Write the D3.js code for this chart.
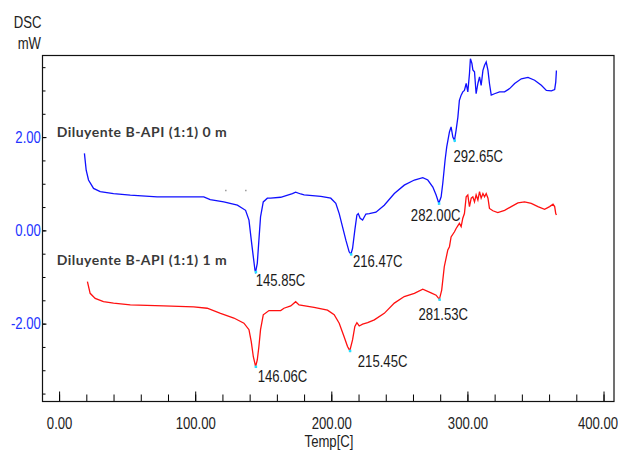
<!DOCTYPE html>
<html>
<head>
<meta charset="utf-8">
<script src="https://cdn.jsdelivr.net/npm/d3@7"></script>
<style>
  body { margin: 0; background: #fff; }
</style>
</head>
<body>
<script>
// DSC curves, temperature [C] and heat flow [mW]
var temp0m = [18.6,19.9,21.6,25.3,30.2,40,52.3,72,89,106.3,111,121,131,137,139.5,141.2,142.7,143.9,144.4,145.6,146.8,148,150,153,155.4,162.8,171.4,173.8,177.5,180,192.3,199.6,203.3,205.8,208.2,210.7,213.1,214.4,215.6,217.3,218.8,219.8,221.2,223,225.4,227.9,232.8,238.9,246.3,253.6,261,267.2,270.9,274.6,277,279,280.7,281.9,283.6,284.8,286.8,288,289.3,290.5,291.7,293,294.1,295.4,296.6,297.8,299.1,300.3,301.5,302.2,303.3,304,305.2,306.4,307.7,308.9,310.1,311.4,312.6,313.8,315.1,316.2,317.5,319.9,323.6,327.3,331,334.7,339.6,344.5,349.4,354.3,358,361.7,364.1,364.9,365.4];
var dsc0m  = [1.65,1.29,1.08,0.90,0.83,0.79,0.756,0.72,0.72,0.72,0.66,0.61,0.54,0.43,0.22,-0.21,-0.57,-0.85,-0.89,-0.71,-0.21,0.29,0.61,0.69,0.69,0.71,0.79,0.82,0.78,0.76,0.73,0.69,0.58,0.36,0.08,-0.21,-0.46,-0.51,-0.39,0.01,0.33,0.36,0.26,0.22,0.35,0.36,0.39,0.54,0.79,0.97,1.08,1.13,1.08,0.93,0.76,0.58,0.72,1.01,1.51,1.79,2.11,2.22,2.00,1.93,2.15,2.43,2.79,2.90,2.97,3.00,3.15,2.97,3.36,3.68,3.58,3.44,3.40,2.93,3.15,3.29,3.11,3.43,3.54,3.61,3.43,3.15,2.90,2.93,2.97,2.97,3.04,3.15,3.25,3.28,3.22,3.11,3.00,2.99,3.02,3.18,3.43];

var temp1m = [20.8,22.8,26.5,32.6,40,52.3,76.8,98.9,108.8,118.6,128.4,135.8,139.5,141.2,142.7,144.4,145.6,146.8,148,150,154.2,162.8,165.2,170.2,173.8,176.3,187.3,197.2,202.1,205.8,209.4,211.9,213.6,215.6,217.3,218.8,220.5,223,226.7,231.6,238.9,246.3,253.6,261,267.2,273.3,277,279.4,281.1,283,285.6,286.8,288,290.5,291.7,294.1,295.4,296.6,297.8,299.1,300.3,301.5,302.8,304,305.2,306.4,307.7,308.9,310.1,311.4,312.6,313.8,315.1,316.2,318.7,322.3,327.3,332.2,337.1,342,346.9,351.8,356.7,360.4,362.9,364.1,364.9,365.4];
var dsc1m  = [-1.10,-1.35,-1.46,-1.53,-1.56,-1.60,-1.62,-1.64,-1.67,-1.78,-1.88,-1.99,-2.13,-2.39,-2.71,-2.92,-2.78,-2.49,-2.13,-1.81,-1.72,-1.72,-1.67,-1.62,-1.53,-1.60,-1.65,-1.71,-1.81,-1.99,-2.28,-2.49,-2.58,-2.35,-2.06,-1.98,-2.05,-2.01,-1.98,-1.92,-1.78,-1.56,-1.42,-1.35,-1.26,-1.34,-1.39,-1.48,-1.28,-0.78,-0.42,-0.35,-0.14,-0.03,0.04,0.15,0.08,0.26,0.36,0.72,0.76,0.51,0.69,0.72,0.61,0.76,0.65,0.83,0.69,0.79,0.72,0.79,0.69,0.47,0.42,0.38,0.43,0.51,0.59,0.61,0.58,0.51,0.45,0.51,0.56,0.51,0.36,0.33];

// peak markers: [temp, mW] and their labels
var peaks0m = [[144.4,-0.89],[214.4,-0.51],[279,0.58],[290.5,1.93]];
var peakText0m = ["145.85C","216.47C","282.00C","292.65C"];
var peaks1m = [[144.4,-2.92],[213.6,-2.58],[279.4,-1.48]];
var peakText1m = ["146.06C","215.45C","281.53C"];

var seriesNames = ["Diluyente B-API (1:1) 0 m", "Diluyente B-API (1:1) 1 m"];
var xTicks = [0, 100, 200, 300, 400];
var yTicks = [-2, 0, 2];
var strayDots = [[122.3,0.86],[137,0.86]];

// label offsets from the peak marker (px)
var off0m = [[0,14],[2,13],[-28,18],[-1,21.5]];
var off1m = [[2,15],[8,16.6],[-21,20.6]];

var W = 618, H = 454;
var margin = {left: 42.5, top: 55.5, right: 4, bottom: 52.5},
    width = W - margin.left - margin.right,
    height = H - margin.top - margin.bottom;

var SQ = 0.82; // squeeze Liberation Sans into an Arial Narrow look
var FONT = "'Liberation Sans', Arial, sans-serif";
var fmt = d => d3.format(".2f")(d).replace("\u2212", "-");

var svg = d3.select("body").append("svg")
    .attr("width", W)
    .attr("height", H);

var g = svg.append("g")
    .attr("transform", "translate(" + margin.left + "," + margin.top + ")");

var x = d3.scaleLinear().domain([-12.2, 407.7]).range([0, width]);
var y = d3.scaleLinear().domain([-3.67, 3.75]).range([height, 0]);

// narrow text placed at (px, py)
function ntext(parent, px, py, str, anchor, color) {
    return parent.append("text")
        .attr("transform", "translate(" + px + "," + py + ") scale(" + SQ + ",1)")
        .attr("text-anchor", anchor || "start")
        .attr("font-family", FONT)
        .attr("font-size", 16)
        .attr("fill", color || "#1a1a1a")
        .text(str);
}

// x axis: minor ticks every 20, major every 100
g.append("g")
    .attr("transform", "translate(0," + height + ")")
    .call(d3.axisBottom(x).tickValues(d3.range(0, 401, 20)).tickSizeInner(-7).tickSizeOuter(0).tickFormat(""))
    .call(s => s.select(".domain").remove());
var xAx = g.append("g")
    .attr("transform", "translate(0," + height + ")")
    .call(d3.axisBottom(x).tickValues(xTicks).tickSizeInner(-10).tickSizeOuter(0).tickPadding(16).tickFormat(fmt));
xAx.select(".domain").remove();
xAx.selectAll("text")
    .attr("font-size", 16).attr("font-family", FONT).attr("fill", "#222")
    .attr("transform", "scale(" + SQ + ",1)");
// last label is pushed against the right edge, as in the source plot
xAx.selectAll("text").filter(d => d == 400)
    .attr("text-anchor", "end").attr("x", 14 / SQ);

// y axis
g.append("g")
    .call(d3.axisLeft(y).tickValues(d3.range(-3.5, 3.51, 0.5)).tickSizeInner(-3).tickSizeOuter(0).tickFormat(""))
    .call(s => s.select(".domain").remove());
var yAx = g.append("g")
    .call(d3.axisLeft(y).tickValues(yTicks).tickSizeInner(-4).tickSizeOuter(0).tickPadding(2).tickFormat(fmt));
yAx.select(".domain").remove();
yAx.selectAll("text")
    .attr("font-size", 16).attr("font-family", FONT).attr("fill", "#2233ff")
    .attr("transform", "scale(" + SQ + ",1)");

// frame
g.append("rect")
    .attr("width", width).attr("height", height)
    .attr("fill", "none").attr("stroke", "#111").attr("stroke-width", 1.2);

var line = d3.line().x(d => x(d[0])).y(d => y(d[1]));

g.append("path")
    .datum(d3.zip(temp0m, dsc0m))
    .attr("d", line)
    .attr("fill", "none").attr("stroke", "#1010ff").attr("stroke-width", 1.3);
g.append("path")
    .datum(d3.zip(temp1m, dsc1m))
    .attr("d", line)
    .attr("fill", "none").attr("stroke", "#ff1010").attr("stroke-width", 1.3);

g.selectAll(".stray").data(strayDots).enter().append("rect")
    .attr("x", d => x(d[0]) - 0.5).attr("y", d => y(d[1]) - 0.5)
    .attr("width", 1.5).attr("height", 1.5).attr("fill", "#999");

function peakLabels(pts, txt, off) {
    g.selectAll(null).data(pts).enter().append("rect")
        .attr("x", d => x(d[0]) - 1).attr("y", d => y(d[1]) - 1)
        .attr("width", 2.5).attr("height", 2.5).attr("fill", "#22e0ff");
    pts.forEach(function(d, i) {
        ntext(g, x(d[0]) + off[i][0], y(d[1]) + off[i][1], txt[i]);
    });
}
peakLabels(peaks0m, peakText0m, off0m);
peakLabels(peaks1m, peakText1m, off1m);

// series labels
svg.selectAll(".series").data(seriesNames).enter().append("text")
    .attr("x", 56.7)
    .attr("y", (d, i) => i == 0 ? 136.5 : 264.5)
    .attr("font-family", "Lato, 'Open Sans', sans-serif")
    .attr("font-weight", 700)
    .attr("font-size", 14)
    .attr("textLength", 170)
    .attr("lengthAdjust", "spacing")
    .attr("fill", "#3a3a3a")
    .text(d => d);

// axis titles
ntext(svg, 27.5, 27.5, "DSC", "middle", "#222");
ntext(svg, 41, 49, "mW", "end", "#222");
ntext(svg, 329, 447, "Temp[C]", "middle", "#222");
</script>
</body>
</html>
